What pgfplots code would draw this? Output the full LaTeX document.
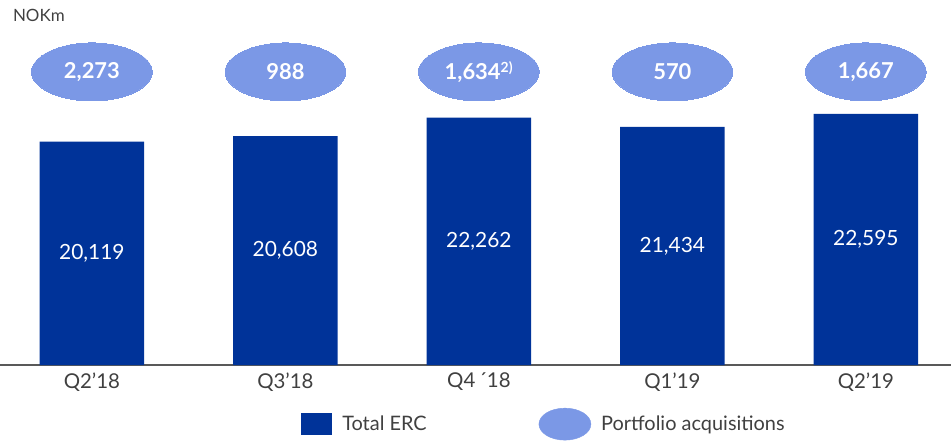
\documentclass[border=0pt]{standalone}
\usepackage{fontspec}
\setmainfont{Lato}
\usepackage{pgfplots}
\usepackage{pgfplotstable}
\pgfplotsset{compat=1.18}
\definecolor{ercblue}{HTML}{003399}
\definecolor{acqblue}{HTML}{7B98E6}
\definecolor{txtgray}{HTML}{404040}

\pgfplotstableread{
x erc acq acqlab
0 20119 2273 {2,273}
1 20608 988 {988}
2 22262 1634 {1,634\textsuperscript{\fontsize{14}{14}\selectfont 2)}}
3 21434 570 {570}
4 22595 1667 {1,667}
}\erc

\begin{document}
\begin{tikzpicture}
\begin{axis}[
  at={(0,0)}, anchor=south west,
  scale only axis, width=951bp, height=365bp,
  xmin=-0.475, xmax=4.44, ymin=0, ymax=32857,
  axis x line=bottom, axis y line=none,
  axis line style={-, draw=black!65, line width=1.5bp},
  xtick={0,1,2,3,4},
  xticklabels={Q2’18,Q3’18,Q4\,´18,Q1’19,Q2’19},
  major tick length=0pt,
  x tick label style={font=\fontsize{20.5}{24}\selectfont, text=txtgray, yshift=-4bp},
  ytick=\empty,
  /pgf/number format/assume math mode=true,
  legend style={at={(0.572,-0.162)}, anchor=center, draw=none, fill=none,
    legend columns=2, font=\fontsize{20}{22}\selectfont, text=txtgray,
    /tikz/every odd column/.append style={column sep=8bp},
    /tikz/every even column/.append style={column sep=110bp}},
  legend cell align=left,
]
\addplot[ybar, bar width=0.54, fill=ercblue, draw=none,
  legend image code/.code={\fill[ercblue] (0bp,-11bp) rectangle (31bp,11bp);}]
  table[x=x, y=erc] {\erc};
\addlegendentry{Total ERC}
\addplot[only marks, color=acqblue, mark=*, mark size=29bp,
  mark options={fill=acqblue, draw=acqblue, line width=0pt, xscale=2.08},
  legend image code/.code={\fill[acqblue] (26bp,0bp) ellipse (26bp and 16bp);}]
  table[x=x, y expr=26380] {\erc};
\addlegendentry{Portfolio acquisitions}
% value labels inside bars
\addplot[forget plot, only marks, mark=none, point meta=\thisrow{erc},
  nodes near coords, nodes near coords align=center,
  every node near coord/.append style={anchor=center, text=white,
    font=\fontsize{21}{24}\selectfont,
    /pgf/number format/.cd, fixed, precision=0, 1000 sep={,}}]
  table[x=x, y expr=\thisrow{erc}/2] {\erc};
% acquisition labels in ellipses
\addplot[forget plot, only marks, mark=none, point meta=explicit symbolic,
  nodes near coords, nodes near coords align=center,
  every node near coord/.append style={anchor=center, text=white,
    font=\bfseries\fontsize{22}{24}\selectfont}]
  table[x=x, y expr=26380, meta=acqlab] {\erc};
\node[anchor=west, text=txtgray, font=\fontsize{17}{18}\selectfont]
  at (rel axis cs:0.01,0.958) {NOKm};
\end{axis}
\pgfresetboundingbox
\useasboundingbox (0,-76bp) rectangle (951bp,365bp);
\end{tikzpicture}
\end{document}
